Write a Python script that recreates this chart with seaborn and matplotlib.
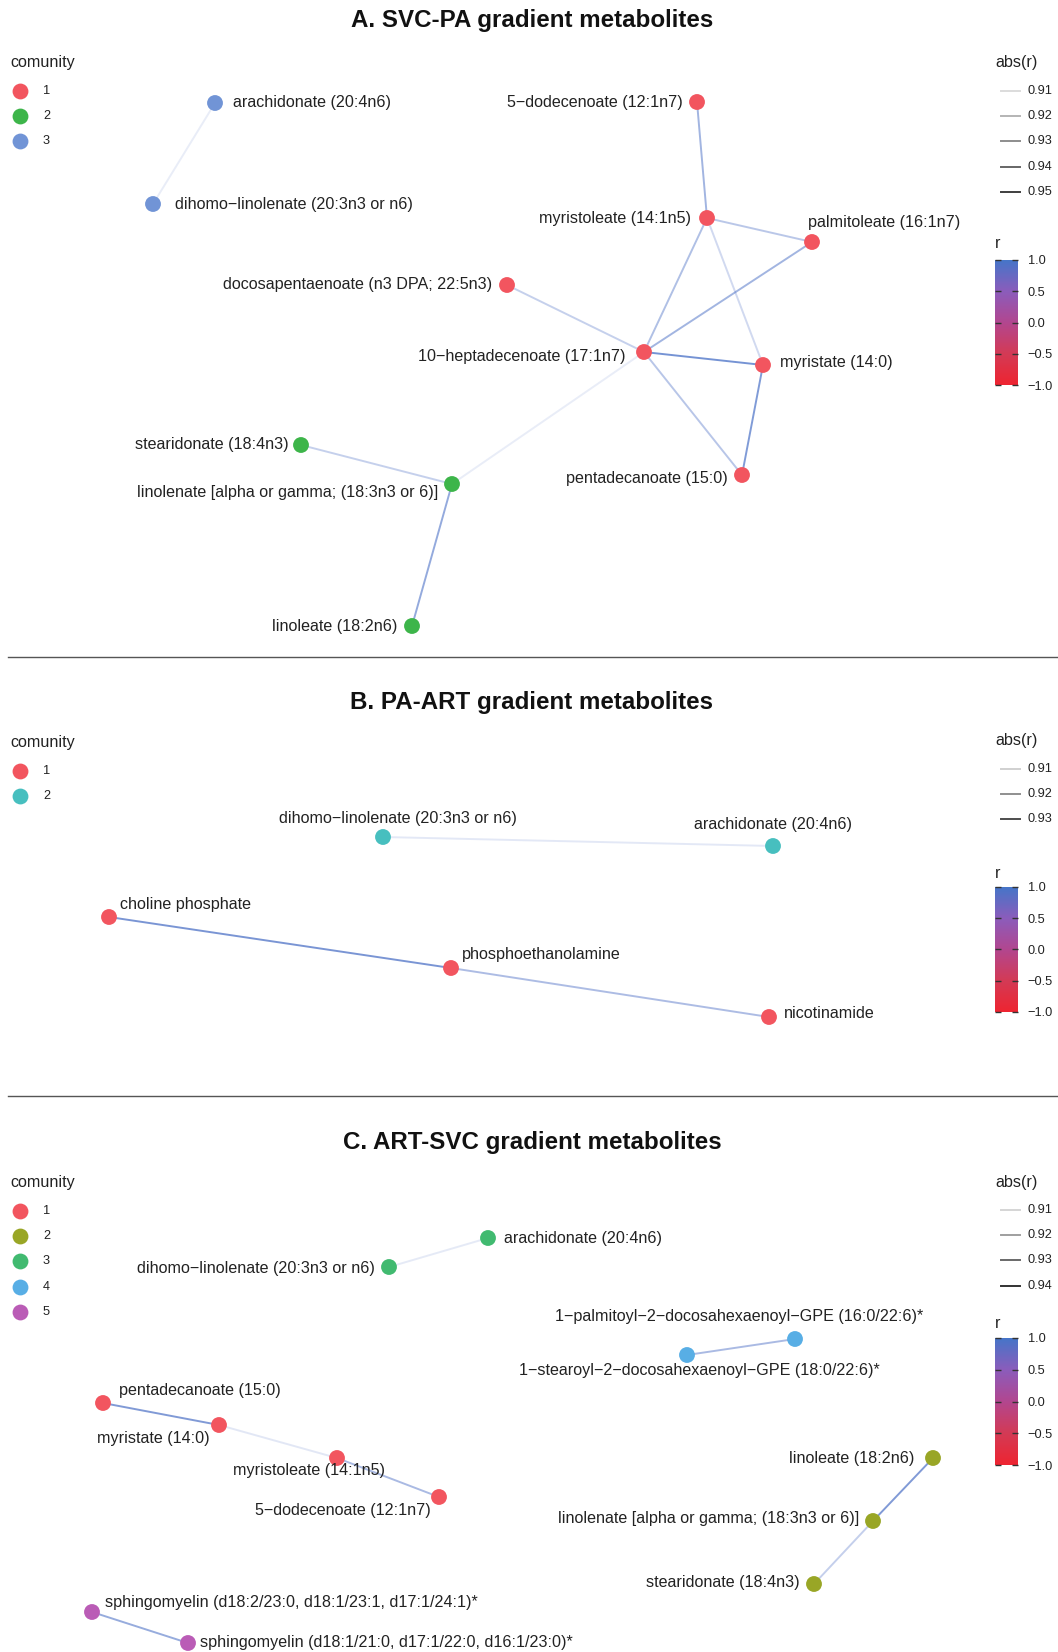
import numpy as np
import pandas as pd
import matplotlib
matplotlib.use('Agg')
import matplotlib.pyplot as plt
import seaborn as sns
from matplotlib.colors import LinearSegmentedColormap, Normalize
from matplotlib.cm import ScalarMappable

# ---- A. SVC-PA ----
a_nodes = ['arachidonate (20:4n6)', 'dihomo-linolenate (20:3n3 or n6)', '5-dodecenoate (12:1n7)',
           'myristoleate (14:1n5)', 'palmitoleate (16:1n7)', 'docosapentaenoate (n3 DPA; 22:5n3)',
           '10-heptadecenoate (17:1n7)', 'myristate (14:0)', 'pentadecanoate (15:0)',
           'stearidonate (18:4n3)', 'linolenate [alpha or gamma; (18:3n3 or 6)]', 'linoleate (18:2n6)']
a_comm = [3, 3, 1, 1, 1, 1, 1, 1, 1, 2, 2, 2]
a_x = [215, 153, 697, 707, 812, 507, 644, 763, 742, 301, 452, 412]
a_y = [103, 204, 102, 218, 242, 285, 352, 365, 475, 445, 484, 626]
a_src = [0, 2, 3, 3, 3, 4, 5, 6, 6, 7, 6, 9, 10]
a_dst = [1, 3, 4, 6, 7, 6, 6, 7, 8, 8, 10, 10, 11]
a_r = [0.909, 0.935, 0.926, 0.930, 0.918, 0.935, 0.922, 0.951, 0.927, 0.947, 0.909, 0.922, 0.940]
a_breaks = [0.91, 0.92, 0.93, 0.94, 0.95]

# ---- B. PA-ART ----
b_nodes = ['dihomo-linolenate (20:3n3 or n6)', 'arachidonate (20:4n6)', 'choline phosphate',
           'phosphoethanolamine', 'nicotinamide']
b_comm = [2, 2, 1, 1, 1]
b_x = [383, 773, 109, 451, 769]
b_y = [837, 846, 917, 968, 1017]
b_src = [0, 2, 3]
b_dst = [1, 3, 4]
b_r = [0.909, 0.932, 0.921]
b_breaks = [0.91, 0.92, 0.93]

# ---- C. ART-SVC ----
c_nodes = ['arachidonate (20:4n6)', 'dihomo-linolenate (20:3n3 or n6)',
           '1-palmitoyl-2-docosahexaenoyl-GPE (16:0/22:6)*', '1-stearoyl-2-docosahexaenoyl-GPE (18:0/22:6)*',
           'pentadecanoate (15:0)', 'myristate (14:0)', 'myristoleate (14:1n5)', '5-dodecenoate (12:1n7)',
           'linoleate (18:2n6)', 'linolenate [alpha or gamma; (18:3n3 or 6)]', 'stearidonate (18:4n3)',
           'sphingomyelin (d18:2/23:0, d18:1/23:1, d17:1/24:1)*', 'sphingomyelin (d18:1/21:0, d17:1/22:0, d16:1/23:0)*']
c_comm = [3, 3, 4, 4, 1, 1, 1, 1, 2, 2, 2, 5, 5]
c_x = [488, 389, 795, 687, 103, 219, 337, 439, 933, 873, 814, 92, 188]
c_y = [1238, 1267, 1339, 1355, 1403, 1425, 1458, 1497, 1458, 1521, 1584, 1612, 1643]
c_src = [0, 2, 4, 5, 6, 8, 9, 11]
c_dst = [1, 3, 5, 6, 7, 9, 10, 12]
c_r = [0.909, 0.925, 0.936, 0.910, 0.925, 0.936, 0.918, 0.930]
c_breaks = [0.91, 0.92, 0.93, 0.94]

# label placement (dx, dy, ha) for each node
a_lab = [(18, 0, 'left'), (22, 0, 'left'), (-14, 0, 'right'), (-16, 0, 'right'), (-4, -19, 'left'),
         (-15, 0, 'right'), (-19, 4, 'right'), (17, -2, 'left'), (-14, 4, 'right'), (-12, -1, 'right'),
         (-14, 8, 'right'), (-15, 0, 'right')]
b_lab = [(15, -19, 'center'), (0, -21, 'center'), (11, -13, 'left'), (11, -13, 'left'), (15, -3, 'left')]
c_lab = [(16, 0, 'left'), (-14, 2, 'right'), (-56, -22, 'center'), (12, 16, 'center'), (16, -13, 'left'),
         (-9, 13, 'right'), (48, 13, 'right'), (-8, 14, 'right'), (-19, 0, 'right'), (-14, -2, 'right'),
         (-14, -1, 'right'), (13, -10, 'left'), (12, 0, 'left')]

palettes = {
    'A': {1: '#F2555F', 2: '#3DB54A', 3: '#7194D6'},
    'B': {1: '#F2555F', 2: '#47BFBF'},
    'C': {1: '#F2555F', 2: '#99A626', 3: '#41BA70', 4: '#58AEE5', 5: '#BA5CB6'},
}

cmap = LinearSegmentedColormap.from_list(
    'rg', [(0.0, '#EE2430'), (0.25, '#D33A55'), (0.5, '#B2468F'), (0.75, '#8B5CBB'), (1.0, '#4575C8')])
norm = Normalize(-1, 1)

W, H = 1058, 1652
fig = plt.figure(figsize=(W / 100, H / 100), dpi=100)
ax = fig.add_axes([0, 0, 1, 1])
ax.set_xlim(0, W)
ax.set_ylim(H, 0)
ax.axis('off')

FONT = 'Liberation Sans'
LBL = 11.6
SMALL = 9.2


def alpha_of(v, lo, hi):
    return 0.08 + 0.72 * np.clip((v - lo) / (hi - lo), 0, 1)


panels = [
    dict(key='A', title='A. SVC-PA gradient metabolites', ty=21, nodes=a_nodes, comm=a_comm, x=a_x, y=a_y,
         src=a_src, dst=a_dst, r=a_r, lab=a_lab, breaks=a_breaks, lo=0.906, hi=0.953,
         leg_y=63, abs_y=63, r_y=244, cb=(260, 385)),
    dict(key='B', title='B. PA-ART gradient metabolites', ty=702, nodes=b_nodes, comm=b_comm, x=b_x, y=b_y,
         src=b_src, dst=b_dst, r=b_r, lab=b_lab, breaks=b_breaks, lo=0.906, hi=0.934,
         leg_y=743, abs_y=741, r_y=873, cb=(887, 1012)),
    dict(key='C', title='C. ART-SVC gradient metabolites', ty=1142, nodes=c_nodes, comm=c_comm, x=c_x, y=c_y,
         src=c_src, dst=c_dst, r=c_r, lab=c_lab, breaks=c_breaks, lo=0.906, hi=0.940,
         leg_y=1183, abs_y=1182, r_y=1324, cb=(1338, 1465)),
]

for p in panels:
    df = pd.DataFrame({'name': p['nodes'], 'comm': p['comm'], 'x': p['x'], 'y': p['y']})
    # edges
    for s, d, r in zip(p['src'], p['dst'], p['r']):
        ax.plot([df.x[s], df.x[d]], [df.y[s], df.y[d]], color=cmap(norm(r)),
                alpha=alpha_of(abs(r), p['lo'], p['hi']), lw=1.4, solid_capstyle='butt', zorder=1)
    # nodes
    sns.scatterplot(data=df, x='x', y='y', hue='comm', palette=palettes[p['key']], s=130,
                    linewidth=0, legend=False, ax=ax, zorder=3)
    for i, row in df.iterrows():
        dx, dy, ha = p['lab'][i]
        ax.text(row.x + dx, row.y + dy, row['name'].replace('-', '\u2212'), ha=ha, va='center',
                fontsize=LBL, family=FONT, color='#222222', zorder=4)
    # title
    ax.text(532, p['ty'], p['title'], ha='center', va='center', fontsize=17.4, fontweight='bold',
            family=FONT, color='#111111')

    # community legend
    ax.text(10, p['leg_y'], 'comunity', ha='left', va='center', fontsize=LBL, family=FONT, color='#222222')
    for k, (c, col) in enumerate(palettes[p['key']].items()):
        yy = p['leg_y'] + 28 + k * 25.2
        ax.scatter([20], [yy], s=130, color=col, linewidth=0)
        ax.text(43, yy, str(c), ha='left', va='center', fontsize=SMALL, family=FONT, color='#222222')

    # abs(r) legend
    ax.text(995, p['abs_y'], 'abs(r)', ha='left', va='center', fontsize=LBL, family=FONT, color='#222222')
    for k, b in enumerate(p['breaks']):
        yy = p['abs_y'] + 28 + k * 25.2
        ax.plot([1001, 1020], [yy, yy], color='black', alpha=alpha_of(b, p['lo'], p['hi']), lw=1.4)
        ax.text(1027, yy, f'{b:.2f}', ha='left', va='center', fontsize=SMALL, family=FONT, color='#222222')

    # r colourbar
    ax.text(995, p['r_y'], 'r', ha='left', va='center', fontsize=LBL, family=FONT, color='#222222')
    y0, y1 = p['cb']
    cax = fig.add_axes([995 / W, 1 - y1 / H, 23 / W, (y1 - y0) / H])
    cb = fig.colorbar(ScalarMappable(norm=norm, cmap=cmap), cax=cax, ticks=[-1, -0.5, 0, 0.5, 1])
    cb.outline.set_visible(False)
    cax.tick_params(axis='y', direction='in', length=4, width=1, color='#333333', left=True, right=True,
                    labelsize=SMALL, pad=7, labelcolor='#222222')
    cax.set_yticklabels(['\u22121.0', '\u22120.5', '0.0', '0.5', '1.0'], family=FONT)

# separators
ax.plot([8, W], [656.5, 656.5], color='#555555', lw=1)
ax.plot([8, W], [1096, 1096], color='#555555', lw=1)

fig.savefig('out.png', dpi=100, facecolor='white')
